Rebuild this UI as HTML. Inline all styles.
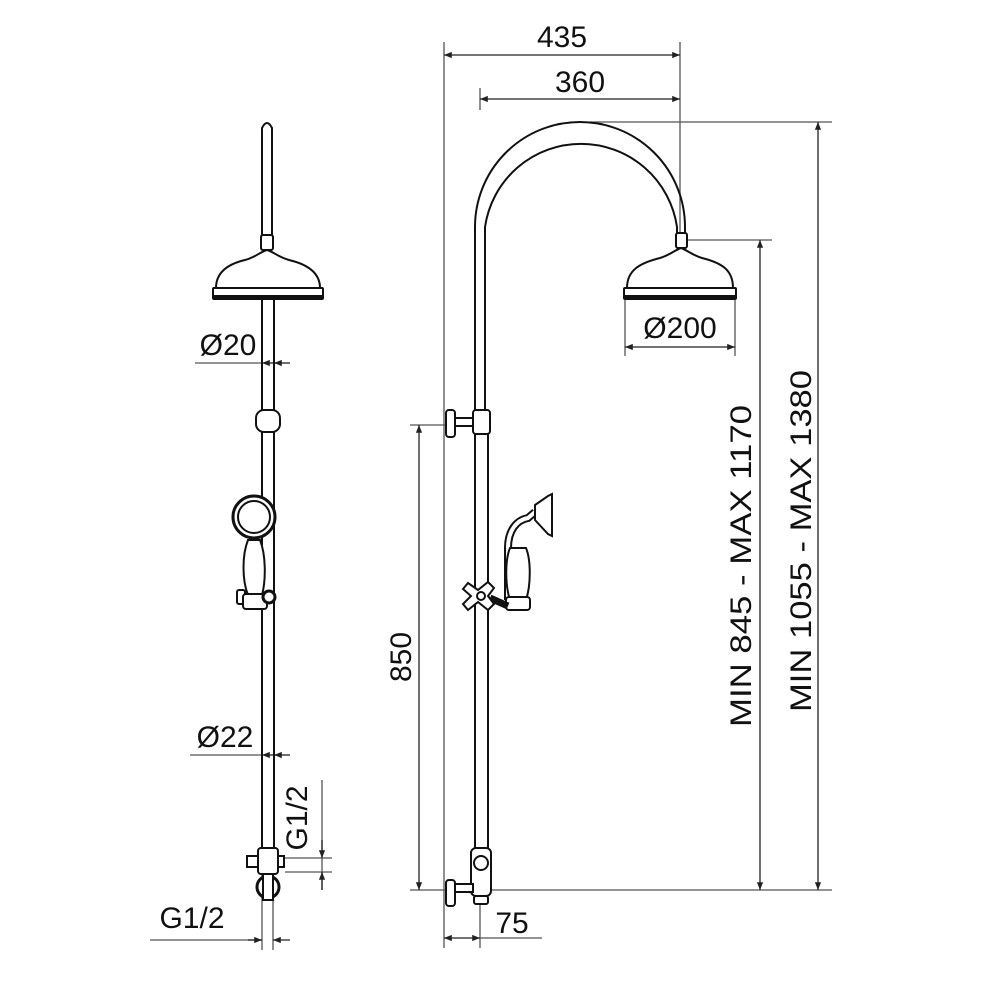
<!DOCTYPE html>
<html><head><meta charset="utf-8"><style>
html,body{margin:0;padding:0;background:#fff;}
svg{display:block;}
text{font-family:"Liberation Sans","DejaVu Sans",sans-serif;fill:#111;}
</style></head><body>
<svg width="1000" height="1000" viewBox="0 0 1000 1000" xmlns="http://www.w3.org/2000/svg">
<defs>
<marker id="a" viewBox="0 0 10 10" refX="10" refY="5" markerWidth="8" markerHeight="6" orient="auto-start-reverse"><path d="M0,1 L10,5 L0,9 z" fill="#222"/></marker>
</defs>
<g stroke="#555" stroke-width="1.3" fill="none">
<!-- right dims -->
<line x1="444" y1="42" x2="444" y2="948"/>
<line x1="680" y1="42" x2="680" y2="236"/>
<line x1="480" y1="88" x2="480" y2="110"/>
<line x1="480" y1="890" x2="480" y2="948"/>
<line x1="590" y1="122" x2="832" y2="122"/>
<line x1="688" y1="240" x2="772" y2="240"/>
<line x1="480" y1="890" x2="832" y2="890"/>
<line x1="410" y1="425" x2="445" y2="425"/>
<line x1="410" y1="890" x2="445" y2="890"/>
<line x1="625" y1="300" x2="625" y2="356"/>
<line x1="735" y1="300" x2="735" y2="356"/>
<line x1="480" y1="938" x2="542" y2="938"/>
<!-- left dims -->
<line x1="195" y1="363" x2="262" y2="363"/>
<line x1="190" y1="755" x2="262" y2="755"/>
<line x1="150" y1="940" x2="262" y2="940"/>
<line x1="262" y1="875" x2="262" y2="950"/>
<line x1="273" y1="875" x2="273" y2="950"/>
<line x1="285" y1="858" x2="332" y2="858"/>
<line x1="285" y1="872" x2="332" y2="872"/>
<line x1="322" y1="780" x2="322" y2="890"/>
</g>
<g stroke="#222" stroke-width="1.3" fill="none">
<line x1="444" y1="55" x2="680" y2="55" marker-start="url(#a)" marker-end="url(#a)"/>
<line x1="480" y1="99" x2="680" y2="99" marker-start="url(#a)" marker-end="url(#a)"/>
<line x1="760" y1="240" x2="760" y2="890" marker-start="url(#a)" marker-end="url(#a)"/>
<line x1="818" y1="122" x2="818" y2="890" marker-start="url(#a)" marker-end="url(#a)"/>
<line x1="419" y1="425" x2="419" y2="890" marker-start="url(#a)" marker-end="url(#a)"/>
<line x1="625" y1="347" x2="735" y2="347" marker-start="url(#a)" marker-end="url(#a)"/>
<line x1="444" y1="938" x2="480" y2="938" marker-start="url(#a)" marker-end="url(#a)"/>
<line x1="276" y1="363" x2="262" y2="363" marker-end="url(#a)"/>
<line x1="290" y1="363" x2="274" y2="363" marker-end="url(#a)"/>
<line x1="276" y1="755" x2="262" y2="755" marker-end="url(#a)"/>
<line x1="290" y1="755" x2="274" y2="755" marker-end="url(#a)"/>
<line x1="248" y1="940" x2="262" y2="940" marker-end="url(#a)"/>
<line x1="290" y1="940" x2="273" y2="940" marker-end="url(#a)"/>
<line x1="322" y1="840" x2="322" y2="858" marker-end="url(#a)"/>
<line x1="322" y1="890" x2="322" y2="872" marker-end="url(#a)"/>
</g>
<!-- text -->
<g font-size="30">
<text x="562" y="47" text-anchor="middle">435</text>
<text x="580" y="92" text-anchor="middle">360</text>
<text x="680" y="338" text-anchor="middle">Ø200</text>
<text x="512" y="933" text-anchor="middle">75</text>
<text x="228" y="355" text-anchor="middle">Ø20</text>
<text x="225" y="747" text-anchor="middle">Ø22</text>
<text x="192" y="928" text-anchor="middle">G1/2</text>
<text transform="translate(411,657) rotate(-90)" text-anchor="middle">850</text>
<text transform="translate(307,818) rotate(-90)" text-anchor="middle">G1/2</text>
<text transform="translate(751,566) rotate(-90)" text-anchor="middle" textLength="322" lengthAdjust="spacingAndGlyphs">MIN 845 - MAX 1170</text>
<text transform="translate(811,541) rotate(-90)" text-anchor="middle" textLength="342" lengthAdjust="spacingAndGlyphs">MIN 1055 - MAX 1380</text>
</g>
<!-- RIGHT FIGURE -->
<g stroke="#111" stroke-width="2" fill="#fff">
<path d="M475,412 L475,227 A105,105 0 0 1 685,227 L685,235 L677,235 L677,227 A97,97 0 0 0 485,227 L485,412" fill="none"/>
<rect x="676" y="233" width="11" height="15" rx="2"/>
<path d="M627,288 C627,270 640,263 660,258 C670,255 675,250 681,248 C687,250 692,255 702,258 C722,263 733,270 733,288 Z"/>
<rect x="624" y="288" width="112" height="11" rx="1"/>
<line x1="624" y1="297" x2="736" y2="297" stroke-width="4"/>
<rect x="473" y="410" width="17" height="24" rx="3"/>
<rect x="455" y="418" width="18" height="8"/>
<rect x="446" y="410" width="9" height="27" rx="3"/>
<line x1="475" y1="434" x2="475" y2="848" fill="none"/>
<line x1="488" y1="434" x2="488" y2="848" fill="none"/>
<!-- hand shower -->
<path d="M508,600 L508,548 C508,530 517,520 528,518 L535,512" fill="none" stroke-width="8"/>
<path d="M508,600 L508,548 C508,530 517,520 528,518 L535,512" fill="none" stroke="#fff" stroke-width="4"/>
<path d="M535,505 L548,496 L552,494 L552,536 L548,534 L535,520 Z"/>
<path d="M510,548 C505,560 505,585 510,600 L526,600 C531,585 531,560 526,548 Z"/>
<rect x="506" y="597" width="24" height="13" rx="3"/>
<path d="M490,598 L508,606" stroke-width="7" fill="none"/>
<path d="M468,583 L478,590 L488,582 L494,588 L488,596 L494,604 L488,610 L478,602 L468,610 L463,604 L471,596 L463,589 Z"/>
<circle cx="481" cy="596" r="4"/>
<!-- bottom valve -->
<rect x="471" y="848" width="20" height="48" rx="5"/>
<circle cx="481" cy="863" r="7"/>
<rect x="474" y="896" width="14" height="8" rx="2"/>
<rect x="455" y="884" width="18" height="8"/>
<rect x="446" y="880" width="9" height="26" rx="3"/>
</g>
<!-- LEFT FIGURE -->
<g stroke="#111" stroke-width="2" fill="#fff">
<path d="M262,235 L262,128 Q267,118 272,128 L272,235"/>
<rect x="261" y="235" width="12" height="15" rx="2"/>
<path d="M216,288 C216,272 228,264 245,260 C256,257 260,252 267,250 C274,252 278,257 289,260 C306,264 320,272 320,288 Z"/>
<rect x="213" y="288" width="110" height="11" rx="1"/>
<line x1="213" y1="297" x2="323" y2="297" stroke-width="4"/>
<line x1="262" y1="299" x2="262" y2="848" fill="none"/>
<line x1="274" y1="299" x2="274" y2="848" fill="none"/>
<rect x="256" y="410" width="24" height="22" rx="8"/>
<circle cx="254" cy="517" r="21" stroke-width="3"/>
<circle cx="254" cy="517" r="16"/>
<path d="M248,540 C242,555 242,580 248,595 L262,595 C266,580 266,555 260,540 Z"/>
<rect x="237" y="590" width="8" height="14" rx="2"/>
<rect x="243" y="594" width="24" height="15" rx="3"/>
<circle cx="269" cy="597" r="6" stroke-width="3"/>
<rect x="258" y="848" width="20" height="26" rx="3"/>
<rect x="247" y="856" width="11" height="11"/>
<rect x="278" y="856" width="6" height="11"/>
<circle cx="268" cy="887" r="11" stroke-width="3"/>
<rect x="263" y="874" width="10" height="26"/>
</g>
</svg>
</body></html>
